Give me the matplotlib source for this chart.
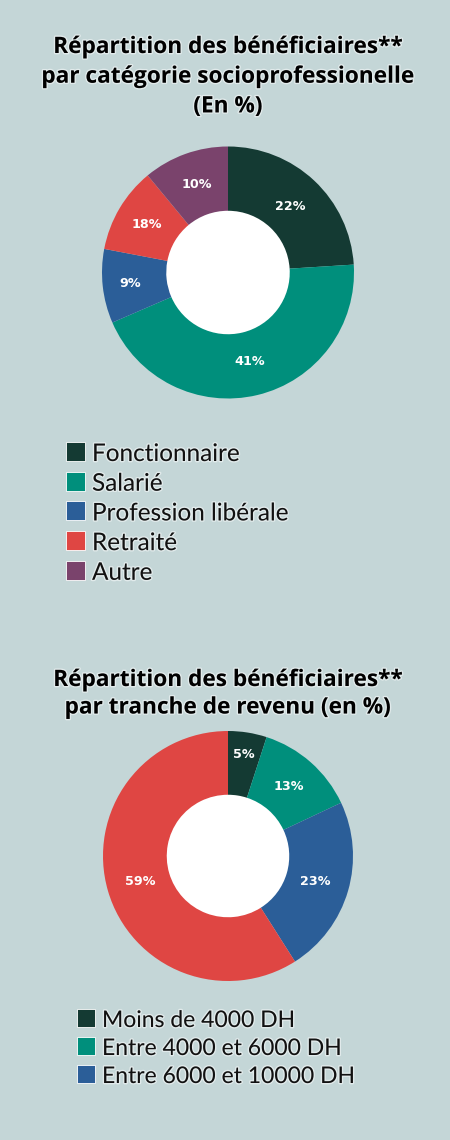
import matplotlib
matplotlib.use('Agg')
import numpy as np
import matplotlib.pyplot as plt
import matplotlib.patheffects as pe
from matplotlib.patches import Rectangle

# Données
# graphique 1 : pourcentages affichés, et parts des secteurs tels que dessinés sur l'image
categories = ['Fonctionnaire', 'Salarié', 'Profession libérale', 'Retraité', 'Autre']
etiquettes_categorie = ['22%', '41%', '9%', '18%', '10%']
secteurs_categorie = [24, 44.5, 9.5, 11, 11]

# graphique 2
tranches = ['Moins de 4000 DH', 'Entre 4000 et 6000 DH', 'Entre 6000 et 10000 DH']
parts_revenu = [5, 13, 23, 59]

couleurs = ['#143a33', '#008f7c', '#2b5e98', '#df4643', '#7a436c']
fond = '#c4d6d7'

W, H = 450, 1140
fig = plt.figure(figsize=(W / 100, H / 100), dpi=100, facecolor=fond)

halo = [pe.withStroke(linewidth=2, foreground='white', alpha=0.5)]


def px(x, y):
    # pixels (depuis le haut) -> coordonnées figure
    return x / W, 1 - y / H


def donut(cx, cy, r, valeurs, etiquettes, cols, dist):
    ax = fig.add_axes([(cx - r) / W, 1 - (cy + r) / H, 2 * r / W, 2 * r / H])
    wedges, _ = ax.pie(valeurs, colors=cols, startangle=90, counterclock=False,
                       wedgeprops=dict(width=0.51, edgecolor='none'))
    for w, lab, d in zip(wedges, etiquettes, dist):
        a = np.deg2rad((w.theta1 + w.theta2) / 2)
        ax.text(d * np.cos(a), d * np.sin(a), lab, ha='center', va='center',
                color='white', fontsize=9.2, fontweight='bold', family='DejaVu Sans')
    ax.add_patch(plt.Circle((0, 0), 0.49, color='white', zorder=0.5))
    ax.set_xlim(-1, 1)
    ax.set_ylim(-1, 1)
    ax.axis('off')
    return wedges


def titre(lignes, y0, pas):
    for i, t in enumerate(lignes):
        fig.text(*px(228, y0 + i * pas), t, ha='center', va='baseline', fontsize=16.3,
                 fontweight='bold', family='Open Sans', color='black', path_effects=halo)


def legende(labels, cols, x, y0, pas, cote, fs):
    for i, (lab, c) in enumerate(zip(labels, cols)):
        yb = y0 + i * pas
        fig.patches.append(Rectangle(px(x, yb), cote / W, cote / H, facecolor=c,
                                     edgecolor='white', linewidth=0.6, transform=fig.transFigure))
        fig.text(*px(x + cote + 7, yb), lab, ha='left', va='baseline', fontsize=fs,
                 family='Lato', color='#111111', path_effects=halo)


# Graphique 1
titre(['Répartition des bénéficiaires**', 'par catégorie socioprofessionelle', '(En %)'], 53, 29.7)
donut(228, 272.5, 126, secteurs_categorie, etiquettes_categorie, couleurs,
      [0.72, 0.73, 0.78, 0.75, 0.74])
legende(categories, couleurs, 66, 461, 29.7, 19, 17.5)

# Graphique 2
titre(['Répartition des bénéficiaires**', 'par tranche de revenu (en %)'], 686, 27.5)
donut(228, 856, 125, parts_revenu, [f'{v}%' for v in parts_revenu], couleurs[:4],
      [0.82, 0.74, 0.73, 0.73])
legende(tranches, couleurs, 77, 1027, 28, 18, 16.5)

fig.savefig('out.png', dpi=100, facecolor=fond)
